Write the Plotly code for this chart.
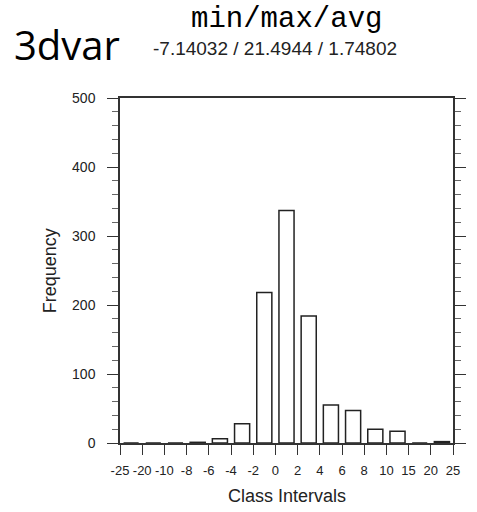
import numpy as np
import plotly.graph_objects as go

# Class interval boundaries and histogram counts
bin_edges = ["-25", "-20", "-10", "-8", "-6", "-4", "-2", "0", "2", "4", "6", "8", "10", "15", "20", "25"]
frequency = [0, 0, 0, 1, 6, 28, 218, 337, 184, 55, 47, 20, 17, 0, 2]

title_text = "min/max/avg"
stats_text = "-7.14032 / 21.4944 / 1.74802"
run_label = "3dvar"

W, H = 477, 512
L, R, T, B = 120, 11, 98, 69
plot_h = H - T - B
plot_w = W - L - R


def py(pix):
    # pixel row -> paper y
    return (H - B - pix) / plot_h


def px(pix):
    # pixel column -> paper x
    return (pix - L) / plot_w


centers = np.arange(len(frequency)) + 0.5

fig = go.Figure(
    go.Bar(
        x=centers,
        y=frequency,
        marker=dict(color="white", line=dict(color="#222222", width=1.5)),
        width=0.68,
        hoverinfo="y",
    )
)

sans = "Liberation Sans, Arial, sans-serif"
axis_font = dict(family=sans, size=14, color="#222222")

fig.update_layout(
    width=W,
    height=H,
    margin=dict(l=L, r=R, t=T, b=B),
    paper_bgcolor="white",
    plot_bgcolor="white",
    showlegend=False,
    xaxis=dict(
        range=[0, len(frequency)],
        tickmode="array",
        tickvals=list(range(len(bin_edges))),
        ticktext=bin_edges,
        tickangle=0,
        ticks="outside",
        ticklen=10,
        tickwidth=1.3,
        tickcolor="#333333",
        showline=True,
        linecolor="#333333",
        linewidth=1.5,
        mirror=True,
        showgrid=False,
        zeroline=False,
        tickfont=dict(family=sans, size=13, color="#222222"),
        ticklabelstandoff=5,
    ),
    yaxis=dict(
        range=[0, 500],
        tickmode="linear",
        tick0=0,
        dtick=100,
        ticks="outside",
        ticklen=11,
        tickwidth=1.3,
        tickcolor="#333333",
        showline=True,
        linecolor="#333333",
        linewidth=1.5,
        mirror="ticks",
        showgrid=False,
        zeroline=False,
        tickfont=axis_font,
        ticklabelstandoff=9,
        minor=dict(dtick=20, ticks="outside", ticklen=6, tickwidth=1.1, tickcolor="#666666", showgrid=False),
    ),
    annotations=[
        dict(text=title_text, xref="paper", yref="paper", x=px(293), y=py(20),
             xanchor="center", yanchor="middle", showarrow=False,
             font=dict(family="Liberation Mono, Courier New, monospace", size=29, color="black")),
        dict(text=stats_text, xref="paper", yref="paper", x=px(281), y=py(48),
             xanchor="center", yanchor="middle", showarrow=False,
             font=dict(family=sans, size=19, color="#222222")),
        dict(text=run_label, xref="paper", yref="paper", x=px(65), y=py(44),
             xanchor="center", yanchor="middle", showarrow=False,
             font=dict(family="Open Sans, sans-serif", size=40, color="black")),
        dict(text="Frequency", xref="paper", yref="paper", x=px(47), y=0.5,
             xanchor="center", yanchor="middle", textangle=-90, showarrow=False,
             font=dict(family=sans, size=18, color="#222222")),
        dict(text="Class Intervals", xref="paper", yref="paper", x=px(293), y=py(496),
             xanchor="center", yanchor="middle", showarrow=False,
             font=dict(family=sans, size=18, color="#222222")),
    ],
)

fig.write_html("out.html")
